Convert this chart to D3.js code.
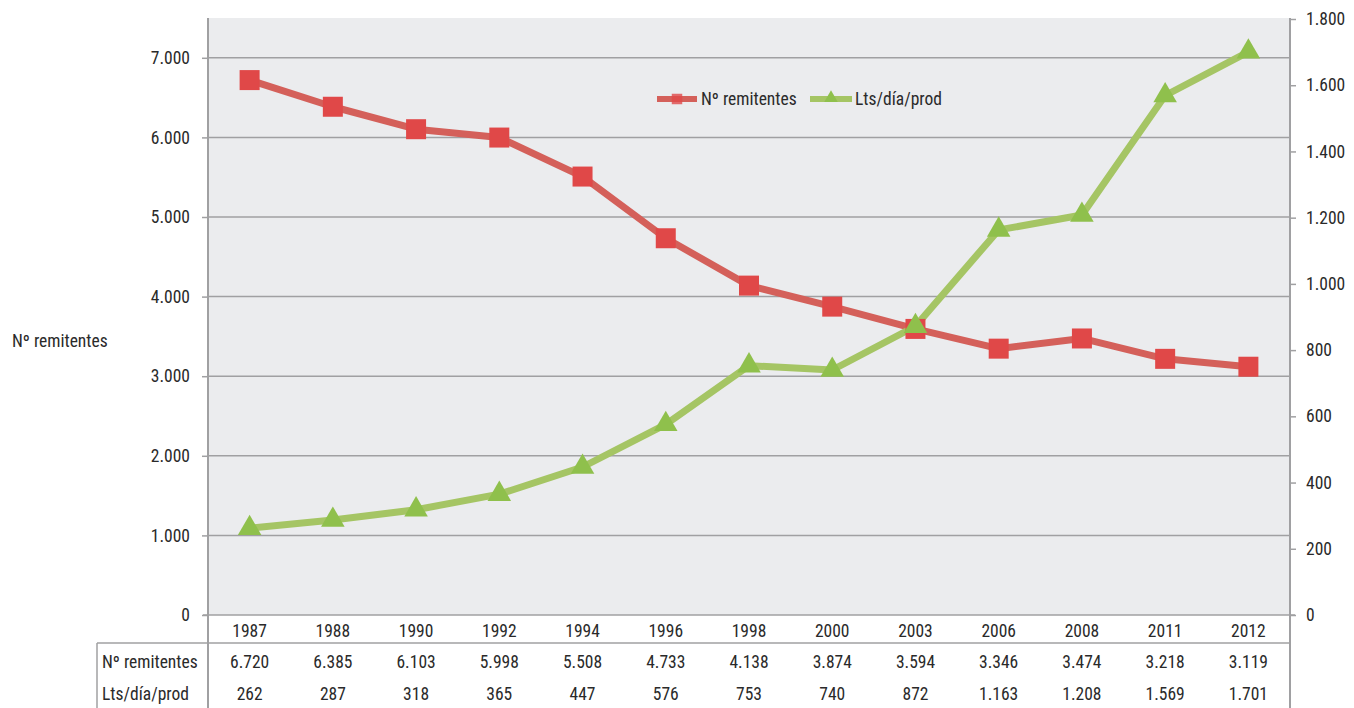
<!DOCTYPE html>
<html><head><meta charset="utf-8">
<script src="https://cdn.jsdelivr.net/npm/d3@7"></script>
<style>
body{margin:0;background:#fff;}
text{font-family:"Liberation Sans Narrow","Roboto Condensed","Liberation Sans",Arial,sans-serif;fill:#2a2a2a;}
</style></head><body>
<svg id="c" width="1354" height="708"></svg>
<script>
const years = ["1987","1988","1990","1992","1994","1996","1998","2000","2003","2006","2008","2011","2012"];
const remitentes = [6720,6385,6103,5998,5508,4733,4138,3874,3594,3346,3474,3218,3119];
const ltsDiaProd = [262,287,318,365,447,576,753,740,872,1163,1208,1569,1701];
const leftTicks = [0,1000,2000,3000,4000,5000,6000,7000];
const rightTicks = [0,200,400,600,800,1000,1200,1400,1600,1800];
const seriesNames = ["Nº remitentes","Lts/día/prod"];

const fmt = v => d3.format(",")(v).replace(/,/g,".");
const svg = d3.select("#c");
const L=208, R=1290, T=18, B=615;
const x = d3.scaleBand().domain(years).range([L,R]);
const yL = d3.scaleLinear().domain([0,7500]).range([B,T]);
const yR = d3.scaleLinear().domain([0,1800]).range([B,19]);
const fs = 17.5;

svg.append("rect").attr("x",L).attr("y",T).attr("width",R-L).attr("height",B-T).attr("fill","#ebecee");

// gridlines
svg.append("g").selectAll("line").data(leftTicks.filter(d=>d>0)).join("line")
  .attr("x1",L).attr("x2",R).attr("y1",d=>yL(d)).attr("y2",d=>yL(d))
  .attr("stroke","#a0a0a2").attr("stroke-width",1.5);

// left axis
const gl = svg.append("g").attr("transform",`translate(${L},0)`)
  .call(d3.axisLeft(yL).tickValues(leftTicks).tickFormat(fmt).tickSize(6).tickPadding(12));
gl.select(".domain").remove();
gl.selectAll("line").attr("stroke","#a0a0a2").attr("stroke-width",1.5);
gl.selectAll("text").attr("font-size",fs).attr("fill","#2a2a2a");
svg.append("line").attr("x1",L).attr("x2",L).attr("y1",T).attr("y2",708).attr("stroke","#a0a0a2").attr("stroke-width",2);

// right axis
const gr = svg.append("g").attr("transform",`translate(${R},0)`)
  .call(d3.axisRight(yR).tickValues(rightTicks).tickFormat(fmt).tickSize(6).tickPadding(10));
gr.select(".domain").remove();
gr.selectAll("line").attr("stroke","#a0a0a2").attr("stroke-width",1.5);
gr.selectAll("text").attr("font-size",fs).attr("fill","#2a2a2a");
svg.append("line").attr("x1",R).attr("x2",R).attr("y1",T).attr("y2",708).attr("stroke","#a0a0a2").attr("stroke-width",2);

// x baseline
svg.append("line").attr("x1",L-5).attr("x2",R+5).attr("y1",B).attr("y2",B).attr("stroke","#a0a0a2").attr("stroke-width",1.5);

// axis title
svg.append("text").attr("x",12).attr("y",347).attr("font-size",fs).text(seriesNames[0]);

// table
const cx = d => x(d)+x.bandwidth()/2;
svg.append("line").attr("x1",97).attr("x2",R).attr("y1",643).attr("y2",643).attr("stroke","#a0a0a2").attr("stroke-width",1.5);
svg.append("line").attr("x1",97).attr("x2",97).attr("y1",643).attr("y2",708).attr("stroke","#a0a0a2").attr("stroke-width",1.5);
svg.append("g").selectAll("text").data(years).join("text")
  .attr("x",cx).attr("y",637).attr("text-anchor","middle").attr("font-size",fs).text(d=>d);
svg.append("g").selectAll("text").data(remitentes).join("text")
  .attr("x",(d,i)=>cx(years[i])).attr("y",668).attr("text-anchor","middle").attr("font-size",fs).text(fmt);
svg.append("g").selectAll("text").data(ltsDiaProd).join("text")
  .attr("x",(d,i)=>cx(years[i])).attr("y",700).attr("text-anchor","middle").attr("font-size",fs).text(fmt);
svg.append("text").attr("x",102).attr("y",668).attr("font-size",fs).text(seriesNames[0]);
svg.append("text").attr("x",102).attr("y",700).attr("font-size",fs).text(seriesNames[1]);

// lines
const redLine="#d4605a", redMark="#e04848", greenLine="#a5c564", greenMark="#8fc04c";
svg.append("path").datum(remitentes)
  .attr("d",d3.line().x((d,i)=>cx(years[i])).y(d=>yL(d)))
  .attr("fill","none").attr("stroke",redLine).attr("stroke-width",7).attr("stroke-linejoin","round");
svg.append("path").datum(ltsDiaProd)
  .attr("d",d3.line().x((d,i)=>cx(years[i])).y(d=>yR(d)))
  .attr("fill","none").attr("stroke",greenLine).attr("stroke-width",7).attr("stroke-linejoin","round");
const sq = d3.symbol().type(d3.symbolSquare).size(400);
const tri = d3.symbol().type(d3.symbolTriangle).size(240);
svg.append("g").selectAll("path").data(remitentes).join("path")
  .attr("d",sq).attr("fill",redMark)
  .attr("transform",(d,i)=>`translate(${cx(years[i])},${yL(d)})`);
svg.append("g").selectAll("path").data(ltsDiaProd).join("path")
  .attr("d",tri).attr("fill",greenMark)
  .attr("transform",(d,i)=>`translate(${cx(years[i])},${yR(d)})`);

// legend
const lg = svg.append("g");
lg.append("line").attr("x1",657).attr("x2",697).attr("y1",99).attr("y2",99).attr("stroke",redLine).attr("stroke-width",6);
lg.append("path").attr("d",d3.symbol().type(d3.symbolSquare).size(110)).attr("fill",redMark).attr("opacity",0.8).attr("transform","translate(677,99)");
lg.append("text").attr("x",701).attr("y",105).attr("font-size",fs).text(seriesNames[0]);
lg.append("line").attr("x1",810).attr("x2",852).attr("y1",99).attr("y2",99).attr("stroke",greenLine).attr("stroke-width",6);
lg.append("path").attr("d",d3.symbol().type(d3.symbolTriangle).size(80)).attr("fill",greenMark).attr("transform","translate(831,98)");
lg.append("text").attr("x",855).attr("y",105).attr("font-size",fs).text(seriesNames[1]);
</script></body></html>
